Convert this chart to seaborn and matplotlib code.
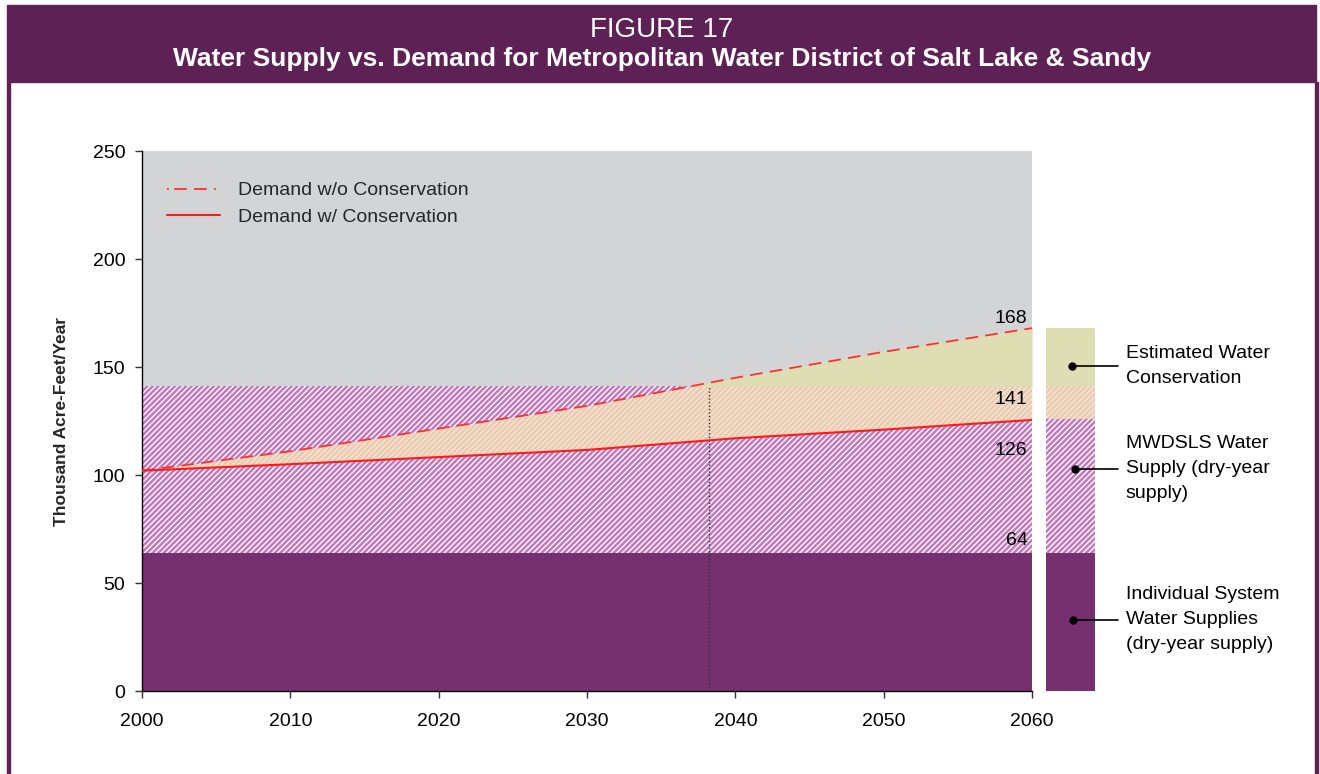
import numpy as np
import pandas as pd
import matplotlib
matplotlib.use("Agg")
import matplotlib.pyplot as plt
from matplotlib.patches import Rectangle
from matplotlib.lines import Line2D
import matplotlib.transforms as mtransforms
import seaborn as sns

# ---- data ----
years = [2000, 2010, 2020, 2030, 2040, 2050, 2060]
demand_wo_cons = [102, 111, 121.5, 132, 145, 157, 168]
demand_w_cons = [102, 105, 108.3, 111.6, 117, 121, 125.5]
individual_supply = 64
mwdsls_supply_top = 141
demand_2060_w = 126
demand_2060_wo = 168
cross_year = 2038.2
side_labels = ["Estimated Water\nConservation",
               "MWDSLS Water\nSupply (dry-year\nsupply)",
               "Individual System\nWater Supplies\n(dry-year supply)"]
value_labels = ["168", "141", "126", "64"]

df = pd.DataFrame({"Year": years, "wo": demand_wo_cons, "w": demand_w_cons})

sns.set_theme(style="ticks")
plt.rcParams['font.family'] = ['Liberation Sans', 'DejaVu Sans']
plt.rcParams['hatch.linewidth'] = 1.8

PURPLE = "#76306F"
PINK = "#C477BD"
TAN = "#F3E0B8"
KHAKI = "#DEDDB4"
GRAY = "#D3D4D6"
HEADER = "#5E2156"
RED = "#FF1A1A"
HATCH = "//////"

W, H = 1320, 774
fig = plt.figure(figsize=(W / 100, H / 100), dpi=100)
fig.patch.set_facecolor("white")

# header and borders
fig.patches.append(Rectangle((7 / W, 1 - 82 / H), (1316 - 7) / W, 77 / H,
                             transform=fig.transFigure, color=HEADER, zorder=0))
fig.patches.append(Rectangle((7 / W, 0), 3 / W, 1 - 82 / H,
                             transform=fig.transFigure, color=HEADER, zorder=0))
fig.patches.append(Rectangle((1315 / W, 0), 3 / W, 1 - 82 / H,
                             transform=fig.transFigure, color=HEADER, zorder=0))
fig.text(662 / W, 1 - 30 / H, "FIGURE 17", color="white", fontsize=20,
         ha="center", va="center")
fig.text(662 / W, 1 - 59 / H,
         "Water Supply vs. Demand for Metropolitan Water District of Salt Lake & Sandy",
         color="white", fontsize=19, fontweight="bold", ha="center", va="center")

ax_l, ax_r, ax_t, ax_b = 142, 1032, 151, 691
ax = fig.add_axes([ax_l / W, 1 - ax_b / H, (ax_r - ax_l) / W, (ax_b - ax_t) / H])
ax.set_facecolor(GRAY)
ax.set_xlim(2000, 2060)
ax.set_ylim(0, 250)

x_full = [years[0], years[-1]]
# individual supplies
ax.fill_between(x_full, 0, individual_supply, color=PURPLE, lw=0, zorder=1)
# MWDSLS hatched
ax.fill_between(x_full, individual_supply, mwdsls_supply_top, facecolor="white",
                edgecolor=PINK, hatch=HATCH, lw=0, zorder=1)
# conservation region
ax.fill_between(df["Year"], df["w"], df["wo"], color=TAN, alpha=0.8, lw=0, zorder=2)
wo = np.array(demand_wo_cons, dtype=float)
ax.fill_between(df["Year"], mwdsls_supply_top, wo, where=wo >= mwdsls_supply_top,
                interpolate=True, color=KHAKI, lw=0, zorder=2)

# dotted line
ax.vlines(cross_year, 0, mwdsls_supply_top, colors="#333333", linestyles=(0, (1, 1.5)),
          lw=1.0, zorder=3)

sns.lineplot(data=df, x="Year", y="wo", ax=ax, color="#FF3030", lw=1.3,
             dashes=False, zorder=4, linestyle=(0, (7, 4)))
sns.lineplot(data=df, x="Year", y="w", ax=ax, color=RED, lw=1.5, zorder=4)

ax.set_xticks(range(2000, 2061, 10))
ax.set_yticks(range(0, 251, 50))
ax.tick_params(axis="both", labelsize=14, length=5, width=1, color="#333333",
               direction="out", labelcolor="black")
ax.tick_params(axis="x", pad=11)
ax.tick_params(axis="y", pad=7)
ax.set_xlabel("")
ax.set_ylabel("Thousand Acre-Feet/Year", fontsize=12.5, fontweight="bold", labelpad=17)
for s in ["top", "right"]:
    ax.spines[s].set_visible(False)
for s in ["left", "bottom"]:
    ax.spines[s].set_color("black")
    ax.spines[s].set_linewidth(1.0)

# value labels
lab_y = [172.5, 135, 111.5, 69.5]
for t, yv in zip(value_labels, lab_y):
    ax.text(2059.7, yv, t, ha="right", va="center", fontsize=14, zorder=5,
            color="black")

# legend
handles = [Line2D([], [], color="#FF3030", lw=1.3, linestyle=(0, (1, 3, 7, 4, 7, 4))),
           Line2D([], [], color=RED, lw=1.5)]
ax.legend(handles, ["Demand w/o Conservation", "Demand w/ Conservation"],
          loc="upper left", bbox_to_anchor=(0.028, 0.943), frameon=False,
          borderaxespad=0, borderpad=0,
          fontsize=14, handlelength=2.75, handletextpad=0.9, labelspacing=0.45)

# side bar
ax2 = fig.add_axes([1046 / W, 1 - (ax_b + 1) / H, 49 / W, (ax_b + 1 - ax_t) / H])
ax2.set_ylim(ax.get_ylim()[0] - 250 / 540, 250)
ax2.set_xlim(-0.5, 0.5)
ax2.axis("off")
ax2.bar(0, individual_supply, width=1, bottom=0, color=PURPLE, lw=0)
ax2.bar(0, demand_2060_w - individual_supply, width=1, bottom=individual_supply,
        facecolor="white", edgecolor=PINK, hatch=HATCH, lw=0)
ax2.bar(0, mwdsls_supply_top - demand_2060_w, width=1, bottom=demand_2060_w,
        facecolor="white", edgecolor=PINK, hatch=HATCH, lw=0)
ax2.bar(0, mwdsls_supply_top - demand_2060_w, width=1, bottom=demand_2060_w,
        color=TAN, alpha=0.8, lw=0)
ax2.bar(0, demand_2060_wo - mwdsls_supply_top, width=1, bottom=mwdsls_supply_top,
        color=KHAKI, lw=0)

trans = mtransforms.blended_transform_factory(ax2.transAxes, ax2.transData)
dot_y = [150.5, 103, 33]
dot_x = [0.53, 0.59, 0.55]
for lbl, yv, xv in zip(side_labels, dot_y, dot_x):
    ax2.plot([xv, 1.47], [yv, yv], color="black", lw=1.2, transform=trans, clip_on=False)
    ax2.plot([xv], [yv], "o", color="black", ms=5, transform=trans, clip_on=False)
    ax2.text(1.63, yv, lbl, transform=trans, ha="left", va="center", fontsize=14,
             linespacing=1.62, clip_on=False, color="black")

fig.savefig("out.png", dpi=100, facecolor=fig.get_facecolor())
